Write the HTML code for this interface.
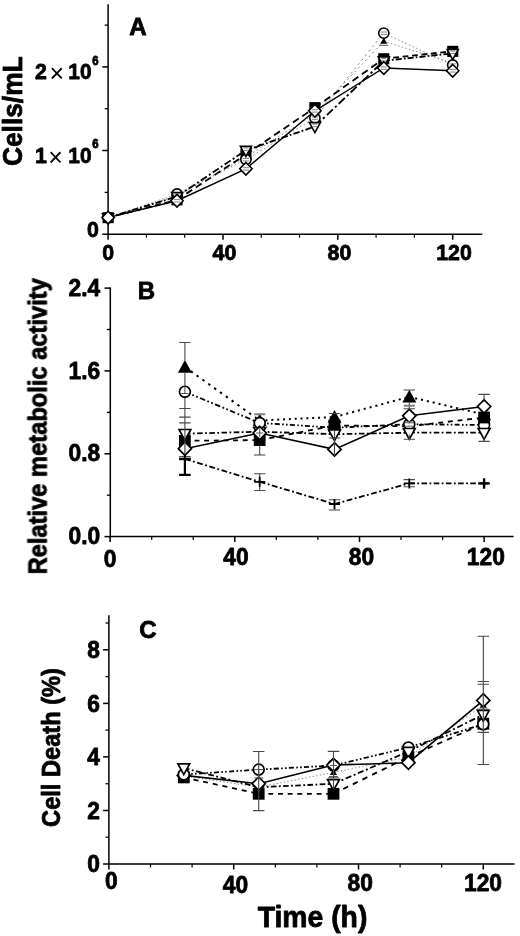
<!DOCTYPE html>
<html lang="en"><head><meta charset="utf-8"><title>Figure</title>
<style>html,body{margin:0;padding:0;background:#fff}svg{display:block}text{font-family:"Liberation Sans", Arial, Helvetica, sans-serif;fill:#000;stroke:#000;stroke-width:0.8px;stroke-linejoin:round}</style>
</head><body>
<svg width="520" height="936" viewBox="0 0 520 936" stroke="#000">
<defs><filter id="soft" x="0" y="0" width="520" height="936" filterUnits="userSpaceOnUse"><feGaussianBlur stdDeviation="0.4"/></filter></defs>
<rect x="0" y="0" width="520" height="936" fill="#fff" stroke="none"/>
<g filter="url(#soft)">
<g stroke="none">
<text transform="translate(138.0,35.0)" font-size="24" font-weight="bold" text-anchor="middle" >A</text>
<text transform="translate(22.1,111.2) rotate(-90) scale(0.975,1)" font-size="27" font-weight="bold" text-anchor="middle" >Cells/mL</text>
<text transform="translate(108.3,259.6) scale(0.95,1)" font-size="22.5" font-weight="bold" text-anchor="middle" >0</text>
<text transform="translate(224.5,259.6) scale(0.95,1)" font-size="22.5" font-weight="bold" text-anchor="middle" >40</text>
<text transform="translate(339.5,259.6) scale(0.95,1)" font-size="22.5" font-weight="bold" text-anchor="middle" >80</text>
<text transform="translate(454.0,259.6) scale(0.95,1)" font-size="22.5" font-weight="bold" text-anchor="middle" >120</text>
<text transform="translate(99.0,237.0) scale(0.95,1)" font-size="22.5" font-weight="bold" text-anchor="end" >0</text>
<text transform="translate(35.0,162.5) scale(0.95,1)" font-size="22.5" font-weight="bold" text-anchor="start" >1</text>
<text transform="translate(55.6,165.8)" font-size="25" font-weight="normal" text-anchor="middle" style="stroke-width:0">×</text>
<text transform="translate(68.3,162.5) scale(0.93,1)" font-size="22.5" font-weight="bold" text-anchor="start" >10</text>
<text transform="translate(92.3,148.2) scale(0.95,1)" font-size="12" font-weight="bold" text-anchor="start" >6</text>
<text transform="translate(35.0,79.0) scale(0.95,1)" font-size="22.5" font-weight="bold" text-anchor="start" >2</text>
<text transform="translate(56.9,82.3)" font-size="25" font-weight="normal" text-anchor="middle" style="stroke-width:0">×</text>
<text transform="translate(68.3,79.0) scale(0.93,1)" font-size="22.5" font-weight="bold" text-anchor="start" >10</text>
<text transform="translate(92.3,64.7) scale(0.95,1)" font-size="12" font-weight="bold" text-anchor="start" >6</text>
<text transform="translate(146.5,299.0)" font-size="24" font-weight="bold" text-anchor="middle" >B</text>
<text transform="translate(46.6,426.3) rotate(-90) scale(0.948,1)" font-size="25" font-weight="bold" text-anchor="middle" >Relative metabolic activity</text>
<text transform="translate(100.3,295.7) scale(0.95,1)" font-size="24" font-weight="bold" text-anchor="end" >2.4</text>
<text transform="translate(100.3,378.5) scale(0.95,1)" font-size="24" font-weight="bold" text-anchor="end" >1.6</text>
<text transform="translate(100.3,461.4) scale(0.95,1)" font-size="24" font-weight="bold" text-anchor="end" >0.8</text>
<text transform="translate(100.3,544.2) scale(0.95,1)" font-size="24" font-weight="bold" text-anchor="end" >0.0</text>
<text transform="translate(110.2,567.0) scale(0.95,1)" font-size="24" font-weight="bold" text-anchor="middle" >0</text>
<text transform="translate(236.0,565.3) scale(0.95,1)" font-size="24" font-weight="bold" text-anchor="middle" >40</text>
<text transform="translate(361.4,565.1) scale(0.95,1)" font-size="24" font-weight="bold" text-anchor="middle" >80</text>
<text transform="translate(485.8,564.8) scale(0.95,1)" font-size="24" font-weight="bold" text-anchor="middle" >120</text>
<text transform="translate(148.0,638.0)" font-size="24" font-weight="bold" text-anchor="middle" >C</text>
<text transform="translate(59.8,747.5) rotate(-90) scale(0.945,1)" font-size="25" font-weight="bold" text-anchor="middle" >Cell Death (%)</text>
<text transform="translate(99.9,872.3) scale(0.95,1)" font-size="24" font-weight="bold" text-anchor="end" >0</text>
<text transform="translate(99.9,818.8) scale(0.95,1)" font-size="24" font-weight="bold" text-anchor="end" >2</text>
<text transform="translate(99.9,765.2) scale(0.95,1)" font-size="24" font-weight="bold" text-anchor="end" >4</text>
<text transform="translate(99.9,711.6) scale(0.95,1)" font-size="24" font-weight="bold" text-anchor="end" >6</text>
<text transform="translate(99.9,658.1) scale(0.95,1)" font-size="24" font-weight="bold" text-anchor="end" >8</text>
<text transform="translate(111.4,889.3) scale(0.95,1)" font-size="24" font-weight="bold" text-anchor="middle" >0</text>
<text transform="translate(235.4,893.3) scale(0.95,1)" font-size="24" font-weight="bold" text-anchor="middle" >40</text>
<text transform="translate(360.3,891.0) scale(0.95,1)" font-size="24" font-weight="bold" text-anchor="middle" >80</text>
<text transform="translate(483.0,891.0) scale(0.95,1)" font-size="24" font-weight="bold" text-anchor="middle" >120</text>
<text transform="translate(312.5,927.0) scale(0.945,1)" font-size="30" font-weight="bold" text-anchor="middle" >Time (h)</text>
</g>
<g id="panelA">
<line x1="108.1" y1="4.2" x2="108.1" y2="234.9" stroke-width="1.5" />
<line x1="107.3" y1="234.2" x2="482.3" y2="234.2" stroke-width="1.5" />
<line x1="102.3" y1="234.2" x2="108.1" y2="234.2" stroke-width="1.5" />
<line x1="102.3" y1="150.5" x2="108.1" y2="150.5" stroke-width="1.5" />
<line x1="102.3" y1="66.9" x2="108.1" y2="66.9" stroke-width="1.5" />
<line x1="104.7" y1="192.4" x2="108.1" y2="192.4" stroke-width="1.3" />
<line x1="104.7" y1="108.7" x2="108.1" y2="108.7" stroke-width="1.3" />
<line x1="104.7" y1="25.1" x2="108.1" y2="25.1" stroke-width="1.3" />
<line x1="108.1" y1="234.2" x2="108.1" y2="239.7" stroke-width="1.5" />
<line x1="223.0" y1="234.2" x2="223.0" y2="239.7" stroke-width="1.5" />
<line x1="337.8" y1="234.2" x2="337.8" y2="239.7" stroke-width="1.5" />
<line x1="452.7" y1="234.2" x2="452.7" y2="239.7" stroke-width="1.5" />
<line x1="146.4" y1="234.2" x2="146.4" y2="237.7" stroke-width="1.2" />
<line x1="184.7" y1="234.2" x2="184.7" y2="237.7" stroke-width="1.2" />
<line x1="261.3" y1="234.2" x2="261.3" y2="237.7" stroke-width="1.2" />
<line x1="299.5" y1="234.2" x2="299.5" y2="237.7" stroke-width="1.2" />
<line x1="376.1" y1="234.2" x2="376.1" y2="237.7" stroke-width="1.2" />
<line x1="414.4" y1="234.2" x2="414.4" y2="237.7" stroke-width="1.2" />
<line x1="108.1" y1="217.6" x2="177.0" y2="196.0" stroke="#777" stroke-width="0.9" stroke-dasharray="1.36 2.41"/>
<line x1="177.0" y1="196.0" x2="245.9" y2="157.0" stroke="#777" stroke-width="0.9" stroke-dasharray="1.49 2.64"/>
<line x1="245.9" y1="157.0" x2="314.9" y2="114.0" stroke="#777" stroke-width="0.9" stroke-dasharray="1.53 2.71"/>
<line x1="314.9" y1="114.0" x2="383.8" y2="41.3" stroke="#777" stroke-width="0.9" stroke-dasharray="1.89 3.34"/>
<line x1="383.8" y1="41.3" x2="452.7" y2="63.0" stroke="#777" stroke-width="0.9" stroke-dasharray="1.36 2.41"/>
<line x1="108.1" y1="217.6" x2="177.0" y2="199.8" stroke="#000" stroke-width="1.85" stroke-dasharray="5.99 3.72"/>
<line x1="177.0" y1="199.8" x2="245.9" y2="154.5" stroke="#000" stroke-width="1.85" stroke-dasharray="6.94 4.31"/>
<line x1="245.9" y1="154.5" x2="314.9" y2="107.6" stroke="#000" stroke-width="1.85" stroke-dasharray="7.02 4.35"/>
<line x1="314.9" y1="107.6" x2="383.8" y2="58.7" stroke="#000" stroke-width="1.85" stroke-dasharray="7.11 4.41"/>
<line x1="383.8" y1="58.7" x2="452.7" y2="51.3" stroke="#000" stroke-width="1.85" stroke-dasharray="5.83 3.62"/>
<line x1="108.1" y1="217.6" x2="177.0" y2="194.0" stroke="#777" stroke-width="0.9" stroke-dasharray="1.37 2.43"/>
<line x1="177.0" y1="194.0" x2="245.9" y2="159.6" stroke="#777" stroke-width="0.9" stroke-dasharray="1.45 2.57"/>
<line x1="245.9" y1="159.6" x2="314.9" y2="118.0" stroke="#777" stroke-width="0.9" stroke-dasharray="1.52 2.69"/>
<line x1="314.9" y1="118.0" x2="383.8" y2="33.1" stroke="#777" stroke-width="0.9" stroke-dasharray="2.06 3.65"/>
<line x1="383.8" y1="33.1" x2="452.7" y2="65.0" stroke="#777" stroke-width="0.9" stroke-dasharray="1.43 2.53"/>
<line x1="108.1" y1="217.6" x2="177.0" y2="196.5" stroke="#000" stroke-width="1.85" stroke-dasharray="6.38 2.09 1.78 2.20"/>
<line x1="177.0" y1="196.5" x2="245.9" y2="150.3" stroke="#000" stroke-width="1.85" stroke-dasharray="7.34 2.41 2.05 2.53"/>
<line x1="245.9" y1="150.3" x2="314.9" y2="126.5" stroke="#000" stroke-width="1.85" stroke-dasharray="6.45 2.12 1.80 2.22"/>
<line x1="314.9" y1="126.5" x2="383.8" y2="60.8" stroke="#000" stroke-width="1.85" stroke-dasharray="8.43 2.76 2.35 2.90"/>
<line x1="383.8" y1="60.8" x2="452.7" y2="53.4" stroke="#000" stroke-width="1.85" stroke-dasharray="6.14 2.01 1.71 2.11"/>
<polyline points="108.1,217.6 177.0,200.7 245.9,168.8 314.9,110.8 383.8,68.0 452.7,70.8" fill="none" stroke="#000" stroke-width="1.45"/>
<polygon points="108.1,214.0 111.7,220.1 104.5,220.1" fill="#000" stroke="none"/>
<path d="M103.6,221.6H112.6" stroke="#484848" stroke-width="0.9"/>
<polygon points="177.0,192.4 180.6,198.5 173.4,198.5" fill="#000" stroke="none"/>
<path d="M172.5,200.0H181.5" stroke="#484848" stroke-width="0.9"/>
<polygon points="245.9,153.4 249.5,159.5 242.3,159.5" fill="#000" stroke="none"/>
<path d="M241.4,161.0H250.4" stroke="#484848" stroke-width="0.9"/>
<polygon points="314.9,110.4 318.5,116.5 311.3,116.5" fill="#000" stroke="none"/>
<path d="M310.4,118.0H319.4" stroke="#484848" stroke-width="0.9"/>
<polygon points="383.8,37.7 387.4,43.8 380.2,43.8" fill="#000" stroke="none"/>
<path d="M379.3,45.3H388.3" stroke="#484848" stroke-width="0.9"/>
<polygon points="452.7,59.4 456.3,65.5 449.1,65.5" fill="#000" stroke="none"/>
<path d="M448.2,67.0H457.2" stroke="#484848" stroke-width="0.9"/>
<rect x="102.6" y="212.1" width="11.1" height="11.1" fill="#000" stroke="none"/>
<rect x="171.5" y="194.3" width="11.1" height="11.1" fill="#000" stroke="none"/>
<rect x="240.4" y="149.0" width="11.1" height="11.1" fill="#000" stroke="none"/>
<rect x="309.3" y="102.1" width="11.1" height="11.1" fill="#000" stroke="none"/>
<rect x="378.2" y="53.2" width="11.1" height="11.1" fill="#000" stroke="none"/>
<rect x="447.2" y="45.8" width="11.1" height="11.1" fill="#000" stroke="none"/>
<circle cx="108.1" cy="217.6" r="5.12" fill="#fff" stroke="#000" stroke-width="1.60"/>
<circle cx="177.0" cy="194.0" r="5.12" fill="#fff" stroke="#000" stroke-width="1.60"/>
<path d="M173.9,192.9H180.1M173.9,195.3H180.1" stroke="#666" stroke-width="0.8" fill="none"/>
<circle cx="245.9" cy="159.6" r="5.12" fill="#fff" stroke="#000" stroke-width="1.60"/>
<path d="M242.8,158.5H249.0M242.8,160.9H249.0" stroke="#666" stroke-width="0.8" fill="none"/>
<circle cx="314.9" cy="118.0" r="5.12" fill="#fff" stroke="#000" stroke-width="1.60"/>
<path d="M311.8,116.9H318.0M311.8,119.3H318.0" stroke="#666" stroke-width="0.8" fill="none"/>
<circle cx="383.8" cy="33.1" r="5.12" fill="#fff" stroke="#000" stroke-width="1.60"/>
<path d="M380.7,32.0H386.9M380.7,34.4H386.9" stroke="#666" stroke-width="0.8" fill="none"/>
<circle cx="452.7" cy="65.0" r="5.12" fill="#fff" stroke="#000" stroke-width="1.60"/>
<path d="M449.6,63.9H455.8M449.6,66.3H455.8" stroke="#666" stroke-width="0.8" fill="none"/>
<polygon points="102.6,213.7 113.6,213.7 108.1,223.8" fill="#fff" stroke="#000" stroke-width="1.60"/>
<polygon points="171.5,192.6 182.6,192.6 177.0,202.7" fill="#fff" stroke="#000" stroke-width="1.60"/>
<path d="M174.6,194.2H179.5M174.6,196.6H179.5" stroke="#666" stroke-width="0.8" fill="none"/>
<polygon points="240.4,146.4 251.5,146.4 245.9,156.5" fill="#fff" stroke="#000" stroke-width="1.60"/>
<path d="M243.5,148.0H248.4M243.5,150.4H248.4" stroke="#666" stroke-width="0.8" fill="none"/>
<polygon points="309.3,122.6 320.4,122.6 314.9,132.7" fill="#fff" stroke="#000" stroke-width="1.60"/>
<path d="M312.4,124.2H317.3M312.4,126.6H317.3" stroke="#666" stroke-width="0.8" fill="none"/>
<polygon points="378.2,56.9 389.3,56.9 383.8,67.0" fill="#fff" stroke="#000" stroke-width="1.60"/>
<path d="M381.3,58.5H386.2M381.3,60.9H386.2" stroke="#666" stroke-width="0.8" fill="none"/>
<polygon points="447.2,49.5 458.3,49.5 452.7,59.6" fill="#fff" stroke="#000" stroke-width="1.60"/>
<path d="M450.3,51.1H455.1M450.3,53.5H455.1" stroke="#666" stroke-width="0.8" fill="none"/>
<polygon points="108.1,211.3 114.3,217.6 108.1,223.9 101.9,217.6" fill="#fff" stroke="#000" stroke-width="1.60"/>
<polygon points="177.0,194.4 183.2,200.7 177.0,207.0 170.8,200.7" fill="#fff" stroke="#000" stroke-width="1.60"/>
<path d="M173.9,199.6H180.1M173.9,202.0H180.1" stroke="#666" stroke-width="0.8" fill="none"/>
<polygon points="245.9,162.5 252.1,168.8 245.9,175.1 239.7,168.8" fill="#fff" stroke="#000" stroke-width="1.60"/>
<path d="M242.8,167.7H249.0M242.8,170.1H249.0" stroke="#666" stroke-width="0.8" fill="none"/>
<polygon points="314.9,104.5 321.1,110.8 314.9,117.1 308.7,110.8" fill="#fff" stroke="#000" stroke-width="1.60"/>
<path d="M311.8,109.7H318.0M311.8,112.1H318.0" stroke="#666" stroke-width="0.8" fill="none"/>
<polygon points="383.8,61.7 390.0,68.0 383.8,74.3 377.6,68.0" fill="#fff" stroke="#000" stroke-width="1.60"/>
<path d="M380.7,66.9H386.9M380.7,69.3H386.9" stroke="#666" stroke-width="0.8" fill="none"/>
<polygon points="452.7,64.5 458.9,70.8 452.7,77.1 446.5,70.8" fill="#fff" stroke="#000" stroke-width="1.60"/>
<path d="M449.6,69.7H455.8M449.6,72.1H455.8" stroke="#666" stroke-width="0.8" fill="none"/>
</g>
<g id="panelB">
<line x1="110.3" y1="287.4" x2="110.3" y2="537.4" stroke-width="1.5" />
<line x1="109.5" y1="536.6" x2="513.6" y2="536.6" stroke-width="1.5" />
<line x1="104.5" y1="536.6" x2="110.3" y2="536.6" stroke-width="1.5" />
<line x1="104.5" y1="453.8" x2="110.3" y2="453.8" stroke-width="1.5" />
<line x1="104.5" y1="370.9" x2="110.3" y2="370.9" stroke-width="1.5" />
<line x1="104.5" y1="288.1" x2="110.3" y2="288.1" stroke-width="1.5" />
<line x1="106.9" y1="495.2" x2="110.3" y2="495.2" stroke-width="1.3" />
<line x1="106.9" y1="412.4" x2="110.3" y2="412.4" stroke-width="1.3" />
<line x1="106.9" y1="329.5" x2="110.3" y2="329.5" stroke-width="1.3" />
<line x1="110.1" y1="536.6" x2="110.1" y2="542.1" stroke-width="1.5" />
<line x1="234.8" y1="536.6" x2="234.8" y2="542.1" stroke-width="1.5" />
<line x1="359.5" y1="536.6" x2="359.5" y2="542.1" stroke-width="1.5" />
<line x1="484.1" y1="536.6" x2="484.1" y2="542.1" stroke-width="1.5" />
<line x1="151.7" y1="536.6" x2="151.7" y2="540.1" stroke-width="1.2" />
<line x1="193.2" y1="536.6" x2="193.2" y2="540.1" stroke-width="1.2" />
<line x1="276.3" y1="536.6" x2="276.3" y2="540.1" stroke-width="1.2" />
<line x1="317.9" y1="536.6" x2="317.9" y2="540.1" stroke-width="1.2" />
<line x1="401.0" y1="536.6" x2="401.0" y2="540.1" stroke-width="1.2" />
<line x1="442.6" y1="536.6" x2="442.6" y2="540.1" stroke-width="1.2" />
<line x1="184.9" y1="367.0" x2="259.7" y2="420.5" stroke="#000" stroke-width="2.0" stroke-dasharray="2.46 4.72"/>
<line x1="259.7" y1="420.5" x2="334.5" y2="417.0" stroke="#000" stroke-width="2.0" stroke-dasharray="2.00 3.84"/>
<line x1="334.5" y1="417.0" x2="409.3" y2="396.8" stroke="#000" stroke-width="2.0" stroke-dasharray="2.07 3.98"/>
<line x1="409.3" y1="396.8" x2="484.1" y2="414.5" stroke="#000" stroke-width="2.0" stroke-dasharray="2.06 3.95"/>
<line x1="184.9" y1="391.7" x2="259.7" y2="423.0" stroke="#000" stroke-width="1.8" stroke-dasharray="5.42 2.60 1.73 2.38 1.73 2.49"/>
<line x1="259.7" y1="423.0" x2="334.5" y2="427.7" stroke="#000" stroke-width="1.8" stroke-dasharray="5.01 2.40 1.60 2.20 1.60 2.30"/>
<line x1="334.5" y1="427.7" x2="409.3" y2="424.2" stroke="#000" stroke-width="1.8" stroke-dasharray="5.01 2.40 1.60 2.20 1.60 2.30"/>
<line x1="409.3" y1="424.2" x2="484.1" y2="425.0" stroke="#000" stroke-width="1.8" stroke-dasharray="5.00 2.40 1.60 2.20 1.60 2.30"/>
<line x1="184.9" y1="440.8" x2="259.7" y2="440.1" stroke="#000" stroke-width="1.8" stroke-dasharray="4.90 4.75"/>
<line x1="259.7" y1="440.1" x2="334.5" y2="425.5" stroke="#000" stroke-width="1.8" stroke-dasharray="4.99 4.84"/>
<line x1="334.5" y1="425.5" x2="409.3" y2="426.3" stroke="#000" stroke-width="1.8" stroke-dasharray="4.90 4.75"/>
<line x1="409.3" y1="426.3" x2="484.1" y2="417.5" stroke="#000" stroke-width="1.8" stroke-dasharray="4.93 4.78"/>
<line x1="184.9" y1="433.7" x2="259.7" y2="431.7" stroke="#000" stroke-width="1.8" stroke-dasharray="5.60 2.40 1.80 2.40"/>
<line x1="259.7" y1="431.7" x2="334.5" y2="434.2" stroke="#000" stroke-width="1.8" stroke-dasharray="5.60 2.40 1.80 2.40"/>
<line x1="334.5" y1="434.2" x2="409.3" y2="432.7" stroke="#000" stroke-width="1.8" stroke-dasharray="5.60 2.40 1.80 2.40"/>
<line x1="409.3" y1="432.7" x2="484.1" y2="432.7" stroke="#000" stroke-width="1.8" stroke-dasharray="5.60 2.40 1.80 2.40"/>
<polyline points="184.9,448.7 259.7,433.0 334.5,449.4 409.3,415.8 484.1,406.5" fill="none" stroke="#000" stroke-width="1.6"/>
<line x1="184.9" y1="459.0" x2="259.7" y2="481.8" stroke="#000" stroke-width="1.8" stroke-dasharray="5.85 2.51 1.88 2.51"/>
<line x1="259.7" y1="481.8" x2="334.5" y2="504.0" stroke="#000" stroke-width="1.8" stroke-dasharray="5.84 2.50 1.88 2.50"/>
<line x1="334.5" y1="504.0" x2="409.3" y2="483.4" stroke="#000" stroke-width="1.8" stroke-dasharray="5.81 2.49 1.87 2.49"/>
<line x1="409.3" y1="483.4" x2="484.1" y2="483.4" stroke="#000" stroke-width="1.8" stroke-dasharray="5.60 2.40 1.80 2.40"/>
<path d="M184.9,445.0V474.8M179.1,474.8H190.7" stroke="#000" stroke-width="2.2" fill="none"/>
<polygon points="184.9,360.0 191.9,372.7 177.9,372.7" fill="#000" stroke="none"/>
<polygon points="259.7,413.5 266.7,426.2 252.7,426.2" fill="#000" stroke="none"/>
<polygon points="334.5,410.0 341.5,422.7 327.5,422.7" fill="#000" stroke="none"/>
<polygon points="409.3,389.8 416.3,402.5 402.3,402.5" fill="#000" stroke="none"/>
<polygon points="484.1,407.5 491.1,420.2 477.1,420.2" fill="#000" stroke="none"/>
<circle cx="184.9" cy="391.7" r="5.45" fill="#fff" stroke="#000" stroke-width="1.70"/>
<circle cx="259.7" cy="423.0" r="5.45" fill="#fff" stroke="#000" stroke-width="1.70"/>
<circle cx="334.5" cy="427.7" r="5.45" fill="#fff" stroke="#000" stroke-width="1.70"/>
<circle cx="409.3" cy="424.2" r="5.45" fill="#fff" stroke="#000" stroke-width="1.70"/>
<circle cx="484.1" cy="425.0" r="5.45" fill="#fff" stroke="#000" stroke-width="1.70"/>
<rect x="179.0" y="434.9" width="11.8" height="11.8" fill="#000" stroke="none"/>
<rect x="253.8" y="434.2" width="11.8" height="11.8" fill="#000" stroke="none"/>
<rect x="328.6" y="419.6" width="11.8" height="11.8" fill="#000" stroke="none"/>
<rect x="478.2" y="411.6" width="11.8" height="11.8" fill="#000" stroke="none"/>
<polygon points="179.0,429.5 190.8,429.5 184.9,440.3" fill="#fff" stroke="#000" stroke-width="1.70"/>
<polygon points="253.8,427.5 265.6,427.5 259.7,438.3" fill="#fff" stroke="#000" stroke-width="1.70"/>
<polygon points="328.6,430.0 340.4,430.0 334.5,440.8" fill="#fff" stroke="#000" stroke-width="1.70"/>
<polygon points="403.4,428.5 415.2,428.5 409.3,439.3" fill="#fff" stroke="#000" stroke-width="1.70"/>
<polygon points="478.2,428.5 490.0,428.5 484.1,439.3" fill="#fff" stroke="#000" stroke-width="1.70"/>
<polygon points="184.9,442.0 191.5,448.7 184.9,455.4 178.3,448.7" fill="#fff" stroke="#000" stroke-width="1.70"/>
<polygon points="259.7,426.3 266.3,433.0 259.7,439.7 253.1,433.0" fill="#fff" stroke="#000" stroke-width="1.70"/>
<polygon points="334.5,442.7 341.1,449.4 334.5,456.1 327.9,449.4" fill="#fff" stroke="#000" stroke-width="1.70"/>
<polygon points="409.3,409.1 415.9,415.8 409.3,422.5 402.7,415.8" fill="#fff" stroke="#000" stroke-width="1.70"/>
<polygon points="484.1,399.8 490.7,406.5 484.1,413.2 477.5,406.5" fill="#fff" stroke="#000" stroke-width="1.70"/>
<path d="M179.1,459H190.7" stroke="#000" stroke-width="2.4"/>
<path d="M184.9,342.5V360.5M179.2,342.5H190.6" stroke="#484848" stroke-width="1.1" fill="none"/>
<path d="M184.9,373.0V386.0" stroke="#484848" stroke-width="1.1" fill="none"/>
<path d="M184.9,386.0V393.5M181.4,393.5H188.4" stroke="#484848" stroke-width="1.0" fill="none"/>
<path d="M184.9,398.0V458.0M179.2,408.5H190.6M179.2,417.1H190.6M179.2,422.9H190.6M179.2,456.6H190.6" stroke="#484848" stroke-width="1.1" fill="none"/>
<path d="M259.7,413.6V414.8M254.2,414.2H265.2" stroke="#808080" stroke-width="2.0" fill="none"/>
<path d="M259.7,428.0V437.0M256.2,433.0H263.2" stroke="#484848" stroke-width="0.9" fill="none"/>
<path d="M259.7,446.0V455.0M254.0,455.0H265.4" stroke="#484848" stroke-width="1.1" fill="none"/>
<path d="M259.7,473.8V490.5M254.0,473.8H265.4M254.0,490.5H265.4" stroke="#484848" stroke-width="1.1" fill="none"/>
<path d="M334.5,413.5V414.0M328.8,413.5H340.2" stroke="#484848" stroke-width="1.1" fill="none"/>
<path d="M334.5,431.0V456.0M328.8,438.0H340.2" stroke="#484848" stroke-width="1.1" fill="none"/>
<path d="M334.5,499.8V510.0M328.8,499.8H340.2M328.8,510.0H340.2" stroke="#484848" stroke-width="1.1" fill="none"/>
<path d="M409.3,390.0V391.0M403.6,390.0H415.0" stroke="#484848" stroke-width="1.1" fill="none"/>
<path d="M409.3,402.0V409.6M403.6,408.8H415.0" stroke="#484848" stroke-width="1.1" fill="none"/>
<path d="M409.3,434.5V439.2M403.6,439.2H415.0" stroke="#484848" stroke-width="1.1" fill="none"/>
<path d="M409.3,421.8V422.8M404.7,422.3H413.9" stroke="#777" stroke-width="1.8" fill="none"/>
<path d="M409.3,425.8V426.6M404.5,426.2H414.1" stroke="#666" stroke-width="1.0" fill="none"/>
<path d="M409.3,405.2V406.4M403.8,405.8H414.8" stroke="#808080" stroke-width="2.0" fill="none"/>
<path d="M409.3,479.6V486.8M403.6,479.6H415.0M403.6,486.8H415.0" stroke="#484848" stroke-width="1.1" fill="none"/>
<path d="M484.1,394.4V399.6M478.4,394.4H489.8" stroke="#484848" stroke-width="1.1" fill="none"/>
<path d="M484.1,437.0V441.4M478.4,441.4H489.8" stroke="#484848" stroke-width="1.1" fill="none"/>
<path d="M179.4,459.0H190.4M184.9,454.0V464.0" stroke="#000" stroke-width="1.79" fill="none"/>
<path d="M254.2,481.8H265.2M259.7,476.8V486.8" stroke="#000" stroke-width="1.79" fill="none"/>
<path d="M329.0,504.0H340.0M334.5,499.0V509.0" stroke="#000" stroke-width="1.79" fill="none"/>
<path d="M403.8,483.4H414.8M409.3,478.4V488.4" stroke="#000" stroke-width="1.79" fill="none"/>
<path d="M478.6,483.4H489.6M484.1,478.4V488.4" stroke="#000" stroke-width="1.79" fill="none"/>
<path d="M478.6,483.4H489.6M484.1,478.4V488.4" stroke="#000" stroke-width="2.40" fill="none"/>
</g>
<g id="panelC">
<line x1="108.9" y1="615.2" x2="108.9" y2="864.8" stroke-width="1.5" />
<line x1="108.2" y1="864.0" x2="514.5" y2="864.0" stroke-width="1.5" />
<line x1="103.1" y1="864.0" x2="108.9" y2="864.0" stroke-width="1.5" />
<line x1="103.1" y1="810.5" x2="108.9" y2="810.5" stroke-width="1.5" />
<line x1="103.1" y1="756.9" x2="108.9" y2="756.9" stroke-width="1.5" />
<line x1="103.1" y1="703.4" x2="108.9" y2="703.4" stroke-width="1.5" />
<line x1="103.1" y1="649.8" x2="108.9" y2="649.8" stroke-width="1.5" />
<line x1="105.5" y1="837.2" x2="108.9" y2="837.2" stroke-width="1.3" />
<line x1="105.5" y1="783.7" x2="108.9" y2="783.7" stroke-width="1.3" />
<line x1="105.5" y1="730.1" x2="108.9" y2="730.1" stroke-width="1.3" />
<line x1="105.5" y1="676.6" x2="108.9" y2="676.6" stroke-width="1.3" />
<line x1="105.5" y1="623.0" x2="108.9" y2="623.0" stroke-width="1.3" />
<line x1="108.9" y1="864.0" x2="108.9" y2="869.5" stroke-width="1.5" />
<line x1="233.7" y1="864.0" x2="233.7" y2="869.5" stroke-width="1.5" />
<line x1="358.5" y1="864.0" x2="358.5" y2="869.5" stroke-width="1.5" />
<line x1="483.3" y1="864.0" x2="483.3" y2="869.5" stroke-width="1.5" />
<line x1="150.5" y1="864.0" x2="150.5" y2="867.5" stroke-width="1.2" />
<line x1="192.1" y1="864.0" x2="192.1" y2="867.5" stroke-width="1.2" />
<line x1="275.3" y1="864.0" x2="275.3" y2="867.5" stroke-width="1.2" />
<line x1="316.9" y1="864.0" x2="316.9" y2="867.5" stroke-width="1.2" />
<line x1="400.1" y1="864.0" x2="400.1" y2="867.5" stroke-width="1.2" />
<line x1="441.7" y1="864.0" x2="441.7" y2="867.5" stroke-width="1.2" />
<line x1="183.8" y1="776.0" x2="258.7" y2="787.0" stroke="#777" stroke-width="0.9" stroke-dasharray="1.31 2.32"/>
<line x1="258.7" y1="787.0" x2="333.5" y2="772.5" stroke="#777" stroke-width="0.9" stroke-dasharray="1.32 2.34"/>
<line x1="333.5" y1="772.5" x2="408.4" y2="757.0" stroke="#777" stroke-width="0.9" stroke-dasharray="1.33 2.35"/>
<line x1="408.4" y1="757.0" x2="483.3" y2="705.2" stroke="#777" stroke-width="0.9" stroke-dasharray="1.58 2.80"/>
<line x1="183.8" y1="777.4" x2="258.7" y2="793.8" stroke="#000" stroke-width="1.8" stroke-dasharray="5.02 4.86"/>
<line x1="258.7" y1="793.8" x2="333.5" y2="793.8" stroke="#000" stroke-width="1.8" stroke-dasharray="4.90 4.75"/>
<line x1="333.5" y1="793.8" x2="408.4" y2="757.0" stroke="#000" stroke-width="1.8" stroke-dasharray="5.46 5.29"/>
<line x1="408.4" y1="757.0" x2="483.3" y2="723.7" stroke="#000" stroke-width="1.8" stroke-dasharray="5.36 5.20"/>
<line x1="183.8" y1="774.5" x2="258.7" y2="769.6" stroke="#000" stroke-width="1.8" stroke-dasharray="5.01 2.41 1.60 2.20 1.60 2.30"/>
<line x1="258.7" y1="769.6" x2="333.5" y2="765.5" stroke="#000" stroke-width="1.8" stroke-dasharray="5.01 2.40 1.60 2.20 1.60 2.30"/>
<line x1="333.5" y1="765.5" x2="408.4" y2="747.5" stroke="#000" stroke-width="1.8" stroke-dasharray="5.14 2.47 1.65 2.26 1.65 2.37"/>
<line x1="408.4" y1="747.5" x2="483.3" y2="724.2" stroke="#000" stroke-width="1.8" stroke-dasharray="5.24 2.51 1.68 2.30 1.68 2.41"/>
<line x1="183.8" y1="768.0" x2="258.7" y2="787.2" stroke="#000" stroke-width="1.8" stroke-dasharray="5.78 2.48 1.86 2.48"/>
<line x1="258.7" y1="787.2" x2="333.5" y2="783.8" stroke="#000" stroke-width="1.8" stroke-dasharray="5.61 2.40 1.80 2.40"/>
<line x1="333.5" y1="783.8" x2="408.4" y2="751.5" stroke="#000" stroke-width="1.8" stroke-dasharray="6.10 2.61 1.96 2.61"/>
<line x1="408.4" y1="751.5" x2="483.3" y2="714.6" stroke="#000" stroke-width="1.8" stroke-dasharray="6.24 2.68 2.01 2.68"/>
<polyline points="183.8,775.4 258.7,783.7 333.5,765.0 408.4,762.7 483.3,700.4" fill="none" stroke="#000" stroke-width="1.6"/>
<polygon points="183.8,768.7 190.4,775.4 183.8,782.1 177.2,775.4" fill="#fff" stroke="#000" stroke-width="1.70"/>
<polygon points="183.8,772.4 187.4,778.5 180.2,778.5" fill="#000" stroke="none"/>
<path d="M179.3,780.0H188.3" stroke="#484848" stroke-width="0.9"/>
<polygon points="258.7,783.4 262.3,789.5 255.1,789.5" fill="#000" stroke="none"/>
<path d="M254.2,791.0H263.2" stroke="#484848" stroke-width="0.9"/>
<polygon points="333.5,768.9 337.1,775.0 329.9,775.0" fill="#000" stroke="none"/>
<path d="M329.0,776.5H338.0" stroke="#484848" stroke-width="0.9"/>
<polygon points="408.4,753.4 412.0,759.5 404.8,759.5" fill="#000" stroke="none"/>
<path d="M403.9,761.0H412.9" stroke="#484848" stroke-width="0.9"/>
<polygon points="483.3,701.6 486.9,707.7 479.7,707.7" fill="#000" stroke="none"/>
<path d="M478.8,709.2H487.8" stroke="#484848" stroke-width="0.9"/>
<rect x="177.9" y="771.5" width="11.8" height="11.8" fill="#000" stroke="none"/>
<rect x="252.8" y="787.9" width="11.8" height="11.8" fill="#000" stroke="none"/>
<rect x="327.6" y="787.9" width="11.8" height="11.8" fill="#000" stroke="none"/>
<rect x="402.5" y="751.1" width="11.8" height="11.8" fill="#000" stroke="none"/>
<rect x="477.4" y="717.8" width="11.8" height="11.8" fill="#000" stroke="none"/>
<circle cx="183.8" cy="774.5" r="5.45" fill="#fff" stroke="#000" stroke-width="1.70"/>
<circle cx="258.7" cy="769.6" r="5.45" fill="#fff" stroke="#000" stroke-width="1.70"/>
<circle cx="333.5" cy="765.5" r="5.45" fill="#fff" stroke="#000" stroke-width="1.70"/>
<circle cx="408.4" cy="747.5" r="5.45" fill="#fff" stroke="#000" stroke-width="1.70"/>
<circle cx="483.3" cy="724.2" r="5.45" fill="#fff" stroke="#000" stroke-width="1.70"/>
<polygon points="177.9,763.8 189.7,763.8 183.8,774.6" fill="#fff" stroke="#000" stroke-width="1.70"/>
<polygon points="252.8,783.0 264.6,783.0 258.7,793.8" fill="#fff" stroke="#000" stroke-width="1.70"/>
<polygon points="327.6,779.6 339.4,779.6 333.5,790.4" fill="#fff" stroke="#000" stroke-width="1.70"/>
<polygon points="402.5,747.3 414.3,747.3 408.4,758.1" fill="#fff" stroke="#000" stroke-width="1.70"/>
<polygon points="477.4,710.4 489.2,710.4 483.3,721.2" fill="#fff" stroke="#000" stroke-width="1.70"/>
<polygon points="258.7,777.0 265.3,783.7 258.7,790.4 252.1,783.7" fill="#fff" stroke="#000" stroke-width="1.70"/>
<polygon points="333.5,758.3 340.1,765.0 333.5,771.7 326.9,765.0" fill="#fff" stroke="#000" stroke-width="1.70"/>
<polygon points="408.4,756.0 415.0,762.7 408.4,769.4 401.8,762.7" fill="#fff" stroke="#000" stroke-width="1.70"/>
<polygon points="483.3,693.7 489.9,700.4 483.3,707.1 476.7,700.4" fill="#fff" stroke="#000" stroke-width="1.70"/>
<path d="M258.7,751.5V810.6M253.0,751.5H264.4M253.0,810.6H264.4" stroke="#484848" stroke-width="1.1" fill="none"/>
<path d="M258.7,769.6V778.0M254.2,769.6H263.2M254.2,778.0H263.2" stroke="#484848" stroke-width="1.0" fill="none"/>
<path d="M333.5,751.4V789.0M327.8,751.4H339.2M327.8,777.7H339.2" stroke="#484848" stroke-width="1.1" fill="none"/>
<path d="M333.5,765.0V766.0M330.0,765.5H337.0" stroke="#484848" stroke-width="0.9" fill="none"/>
<path d="M483.3,636.2V764.5M477.6,636.2H489.0M477.6,681.5H489.0M477.6,684.2H489.0M477.6,709.2H489.0M477.6,732.3H489.0M477.6,764.5H489.0" stroke="#484848" stroke-width="1.15" fill="none"/>
</g>
</g></svg></body></html>
